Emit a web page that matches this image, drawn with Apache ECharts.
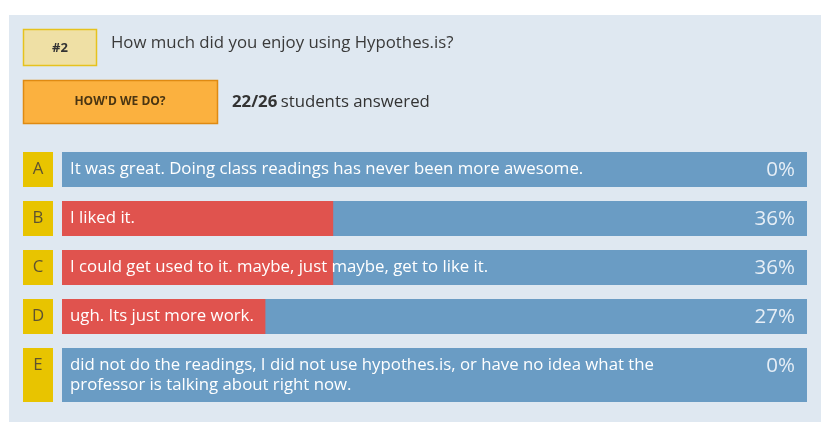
<!DOCTYPE html>
<html>
<head>
<meta charset="utf-8">
<script src="https://cdn.jsdelivr.net/npm/echarts@6/dist/echarts.min.js"></script>
<style>
html,body{margin:0;padding:0;background:#fff;}
#chart{width:821px;height:422px;}
</style>
</head>
<body>
<div id="chart"></div>
<script>
// ---- data ----
const questionNumber = '#2';
const questionText = 'How much did you enjoy using Hypothes.is?';
const answeredCount = 22;
const enrolledCount = 26;
const letters = ['A', 'B', 'C', 'D', 'E'];
const answers = [
  'It was great. Doing class readings has never been more awesome.',
  'I liked it.',
  'I could get used to it. maybe, just maybe, get to like it.',
  'ugh. Its just more work.',
  'did not do the readings, I did not use hypothes.is, or have no idea what the professor is talking about right now.'
];
const percents = [0, 36.4, 36.4, 27.3, 0];

// ---- styling ----
const FONT = '"Open Sans", "Noto Sans", sans-serif';
const FS = '16.8px ';
const WRAP_W = 620;
const LINE_H = 20;

const measureCtx = document.createElement('canvas').getContext('2d');
measureCtx.font = FS + FONT;
function wrapText(str) {
  const words = str.split(' ');
  const lines = [];
  let cur = '';
  words.forEach(w => {
    const t = cur ? cur + ' ' + w : w;
    if (measureCtx.measureText(t).width > WRAP_W && cur) {
      lines.push(cur);
      cur = w;
    } else cur = t;
  });
  if (cur) lines.push(cur);
  return lines;
}

const chart = echarts.init(document.getElementById('chart'), null, {renderer: 'canvas'});

const option = {
  animation: false,
  backgroundColor: '#ffffff',
  grid: {left: 62, right: 14, top: 145, height: 245},
  xAxis: {type: 'value', min: 0, max: 100, show: false},
  yAxis: {type: 'category', data: letters, inverse: true, show: false},
  graphic: [
    {type: 'rect', z: -10, shape: {x: 9, y: 15, width: 812, height: 407}, style: {fill: '#dfe8f1'}},
    {type: 'rect', shape: {x: 23.5, y: 29.5, width: 73, height: 36}, style: {fill: '#efe0a5', stroke: '#e6c21e', lineWidth: 1.5}},
    {type: 'text', x: 60, y: 48, style: {text: questionNumber, font: 'bold 13px ' + FONT, fill: '#333', align: 'center', verticalAlign: 'middle'}},
    {type: 'text', x: 111, y: 43, style: {text: questionText, font: FS + FONT, fill: '#3a3a3a', verticalAlign: 'middle'}},
    {type: 'rect', shape: {x: 23.5, y: 80.5, width: 194, height: 43}, style: {fill: '#fbb13f', stroke: '#df8a12', lineWidth: 1.5}},
    {type: 'text', x: 120, y: 102, style: {text: "HOW'D WE DO?", font: 'bold 12px ' + FONT, fill: '#4a3512', align: 'center', verticalAlign: 'middle'}},
    {type: 'text', x: 232, y: 102, style: {
      text: '{b|' + answeredCount + '/' + enrolledCount + '} {n|students answered}',
      verticalAlign: 'middle',
      rich: {
        b: {font: 'bold ' + FS + FONT, fill: '#333'},
        n: {font: FS + FONT, fill: '#333'}
      }
    }}
  ],
  series: [{
    type: 'custom',
    data: percents.map((p, i) => [p, i]),
    encode: {x: 0, y: 1},
    renderItem: function (params, api) {
      const v = api.value(0);
      const i = api.value(1);
      const s = api.coord([0, i]);
      const e = api.coord([100, i]);
      const f = api.coord([v, i]);
      const band = api.size([0, 1])[1];
      const top = s[1] - band / 2 + 7;
      const lines = wrapText(answers[i]);
      const h = lines.length * LINE_H + 15 - (lines.length > 1 ? 1 : 0);
      const firstMid = top + 17.5;
      return {
        type: 'group',
        children: [
          {type: 'rect', shape: {x: s[0] - 39, y: top, width: 30, height: h}, style: {fill: '#e8c400'}},
          {type: 'text', style: {text: letters[i], x: s[0] - 24, y: firstMid, font: FS + FONT, fill: '#5e5330', align: 'center', verticalAlign: 'middle'}},
          {type: 'rect', shape: {x: s[0], y: top, width: e[0] - s[0], height: h}, style: {fill: '#6a9cc4'}},
          {type: 'rect', shape: {x: s[0], y: top, width: f[0] - s[0], height: h}, style: {fill: '#e0534e'}},
          {type: 'text', style: {text: lines.join('\n'), x: s[0] + 8, y: top + 7.5, font: FS + FONT, lineHeight: LINE_H, fill: '#ffffff', verticalAlign: 'top'}},
          {type: 'text', style: {text: Math.round(v) + '%', x: e[0] - 12, y: firstMid + 1, font: '20.5px ' + FONT, fill: '#e6eef6', align: 'right', verticalAlign: 'middle'}}
        ]
      };
    }
  }]
};
chart.setOption(option);
</script>
</body>
</html>
